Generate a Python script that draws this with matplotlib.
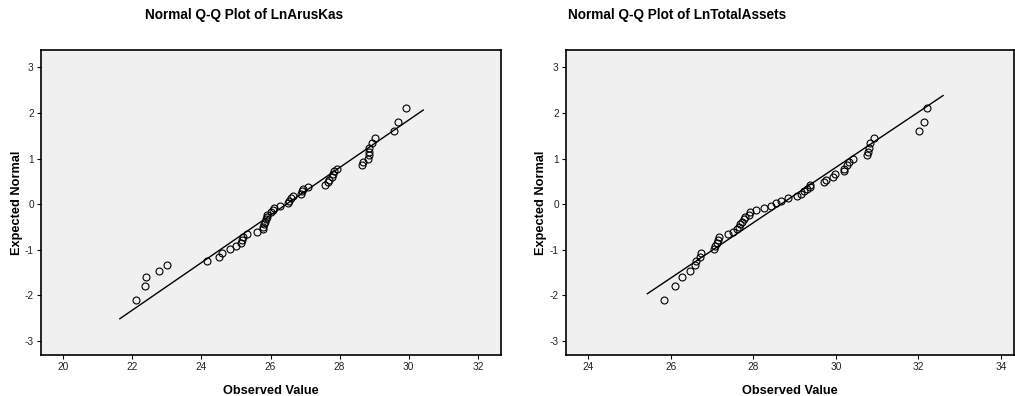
import matplotlib
matplotlib.use('Agg')
import matplotlib.pyplot as plt
import numpy as np

plt.rcParams['font.family'] = ['Liberation Sans', 'DejaVu Sans']
plt.rcParams['axes.unicode_minus'] = False

# expected normal values (same ranks for both variables)
expected = [-2.10, -1.80, -1.60, -1.46, -1.34, -1.24, -1.15, -1.07, -0.99, -0.92,
            -0.85, -0.78, -0.72, -0.66, -0.60, -0.54, -0.49, -0.43, -0.38, -0.33,
            -0.28, -0.23, -0.18, -0.13, -0.08, -0.03,
            0.03, 0.08, 0.13, 0.18, 0.23, 0.28, 0.33, 0.38, 0.43, 0.49,
            0.54, 0.60, 0.66, 0.72, 0.78, 0.85, 0.92, 0.99, 1.07, 1.15,
            1.24, 1.34, 1.46, 1.60, 1.80, 2.10]

ln_arus_kas = [22.12, 22.37, 22.41, 22.76, 23.00, 24.15, 24.51, 24.61, 24.83, 25.00,
               25.14, 25.17, 25.21, 25.33, 25.61, 25.79, 25.79, 25.82, 25.85, 25.88,
               25.90, 25.91, 26.02, 26.06, 26.11, 26.27,
               26.52, 26.53, 26.58, 26.66, 26.87, 26.90, 26.93, 27.08, 27.57, 27.65,
               27.70, 27.77, 27.80, 27.84, 27.92, 28.65, 28.67, 28.83, 28.84, 28.85,
               28.86, 28.93, 29.01, 29.56, 29.68, 29.93]

ln_total_assets = [25.83, 26.10, 26.27, 26.47, 26.59, 26.62, 26.71, 26.74, 27.05, 27.08,
                   27.11, 27.15, 27.17, 27.38, 27.50, 27.61, 27.64, 27.67, 27.73, 27.77,
                   27.79, 27.89, 27.93, 28.06, 28.27, 28.43,
                   28.55, 28.66, 28.84, 29.06, 29.15, 29.22, 29.30, 29.37, 29.38, 29.71,
                   29.77, 29.94, 29.97, 30.19, 30.21, 30.27, 30.33, 30.41, 30.75, 30.79,
                   30.81, 30.82, 30.93, 32.02, 32.14, 32.20]

# reference line: mean, sd, x extent
arus_line = (26.46, 1.921, 21.64, 30.42)
assets_line = (28.67, 1.652, 25.43, 32.60)

arus_ticks = [20, 22, 24, 26, 28, 30, 32]
assets_ticks = [24, 26, 28, 30, 32, 34]
y_ticks = [-3, -2, -1, 0, 1, 2, 3]

W, H = 1015, 396
fig = plt.figure(figsize=(W / 100, H / 100), dpi=100)


def panel(rect, observed, line, xticks, xlim, title, title_x, ylab_x):
    ax = fig.add_axes(rect)
    ax.set_facecolor('#f0f0f0')
    mean, sd, x0, x1 = line
    lx = np.array([x0, x1])
    ax.plot(lx, (lx - mean) / sd, color='black', lw=1.0)
    ax.plot(observed, expected, 'o', mfc='none', mec='black', ms=5.0, mew=0.8)
    ax.set_xlim(*xlim)
    ax.set_ylim(-3.31, 3.37)
    ax.set_xticks(xticks)
    ax.set_yticks(y_ticks)
    ax.tick_params(labelsize=7.3, length=3, width=0.8, colors='black',
                   labelcolor='#222222', pad=2)
    for s in ax.spines.values():
        s.set_linewidth(1.2)
    fig.text(title_x / W, 1 - 15 / H, title, ha='center', va='center',
             fontsize=9.8, fontweight='bold')
    ax.set_xlabel('Observed Value', fontsize=9.2, fontweight='bold', labelpad=9)
    fig.text(ylab_x / W, 0.5 * (rect[1] + rect[1] + rect[3]), 'Expected Normal',
             rotation=90, ha='center', va='center', fontsize=9.2, fontweight='bold')
    return ax


panel([40.7 / W, 40.7 / H, 460.3 / W, 305 / H], ln_arus_kas, arus_line,
      arus_ticks, (19.35, 32.67), 'Normal Q-Q Plot of LnArusKas', 244, 17)
panel([565.7 / W, 40.7 / H, 448.3 / W, 305 / H], ln_total_assets, assets_line,
      assets_ticks, (23.45, 34.32), 'Normal Q-Q Plot of LnTotalAssets', 677, 541)

fig.savefig('out.png', dpi=100)
